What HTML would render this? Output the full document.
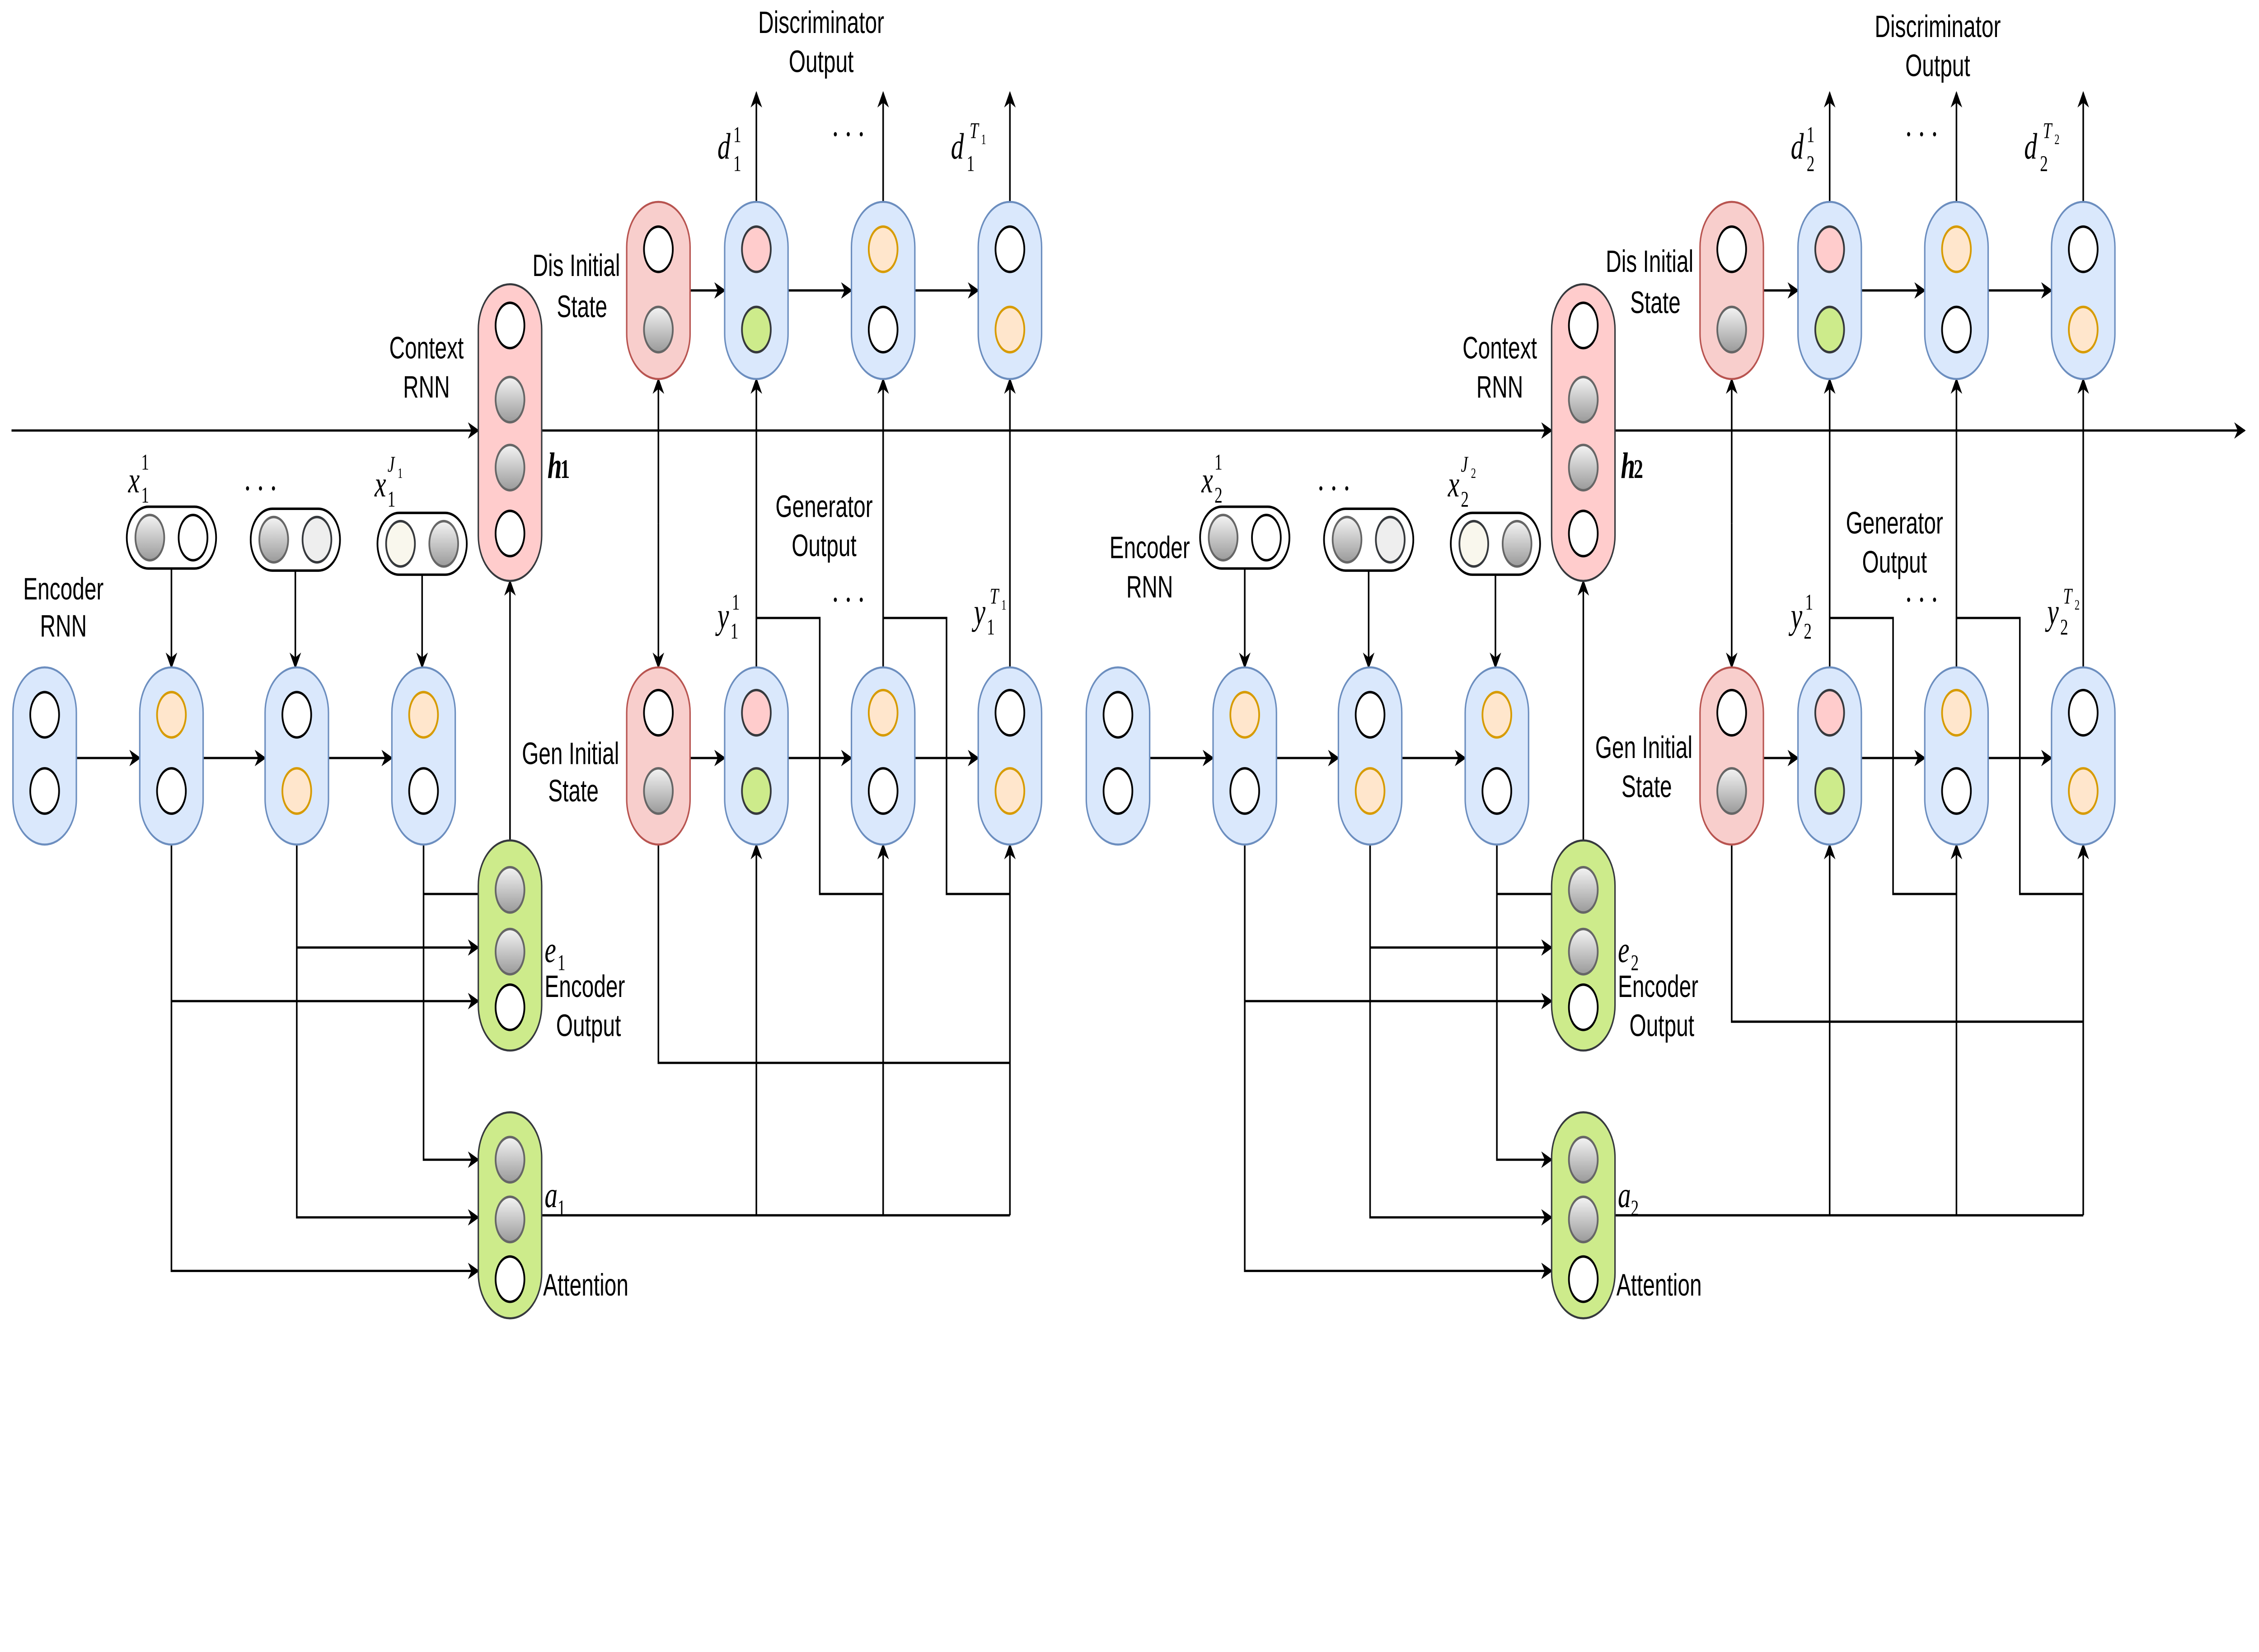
<!DOCTYPE html>
<html><head><meta charset="utf-8"><style>html,body{margin:0;padding:0;background:#fff;width:100%;height:100%;overflow:hidden}svg{display:block;position:fixed;left:0;top:0;width:100vw;height:100vh}</style></head>
<body>
<svg viewBox="0 0 1568 802" preserveAspectRatio="none" xmlns="http://www.w3.org/2000/svg">
<defs>
<linearGradient id="g" x1="0" y1="0" x2="0" y2="1"><stop offset="0" stop-color="#f4f4f4"/><stop offset="1" stop-color="#9a9a9a"/></linearGradient>
<marker id="a" viewBox="0 0 10 10" refX="9" refY="5" markerWidth="8" markerHeight="8" markerUnits="userSpaceOnUse" orient="auto-start-reverse"><path d="M0,0 L10,5 L0,10 L3,5 Z" fill="#000"/></marker>
<style>
.l{fill:none;stroke:#000;stroke-width:1.1}
.ar{fill:none;stroke:#000;stroke-width:1.1;marker-end:url(#a)}
.bc{fill:#dae8fc;stroke:#6c8ebf;stroke-width:1}
.pc{fill:#f8cecc;stroke:#b85450;stroke-width:1}
.cc{fill:#ffcccc;stroke:#36393d;stroke-width:1}
.gc{fill:#cdeb8b;stroke:#36393d;stroke-width:1}
.w{fill:#fff;stroke:#000;stroke-width:1.2}
.gy{fill:url(#g);stroke:#666;stroke-width:1.2}
.or{fill:#ffe6cc;stroke:#d79b00;stroke-width:1.2}
.pk{fill:#ffcccc;stroke:#36393d;stroke-width:1.2}
.gr{fill:#cdeb8b;stroke:#36393d;stroke-width:1.2}
.lg{fill:#eeeeee;stroke:#36393d;stroke-width:1.2}
.cr{fill:#f9f7ed;stroke:#36393d;stroke-width:1.2}
.pill{fill:#fff;stroke:#000;stroke-width:1.2}
text{font-family:"Liberation Sans",sans-serif;font-size:15px;fill:#000}
.m{font-family:"Liberation Serif",serif;font-style:italic;font-size:18px}
.s{font-family:"Liberation Serif",serif;font-size:11px}
.si{font-family:"Liberation Serif",serif;font-style:italic;font-size:11px}
.t{text-anchor:middle}
</style>
</defs>

<line class="ar" x1="8" y1="209" x2="332" y2="209"/>
<line class="ar" x1="376" y1="209" x2="1077" y2="209"/>
<line class="ar" x1="1121" y1="209" x2="1558" y2="209"/>

<g>
<polyline class="ar" points="294,410 294,563 332,563"/>
<line class="l" x1="294" y1="434" x2="332" y2="434"/>
<polyline class="ar" points="206,410 206,591 332,591"/>
<line class="ar" x1="206" y1="460" x2="332" y2="460"/>
<polyline class="ar" points="119,410 119,617 332,617"/>
<line class="ar" x1="119" y1="486" x2="332" y2="486"/>
<line class="ar" x1="354" y1="408" x2="354" y2="282"/>
<line class="ar" x1="53" y1="368" x2="97" y2="368"/>
<line class="ar" x1="141" y1="368" x2="184" y2="368"/>
<line class="ar" x1="228" y1="368" x2="272" y2="368"/>
<line class="ar" x1="119" y1="276" x2="119" y2="324"/>
<line class="ar" x1="205" y1="276" x2="205" y2="324"/>
<line class="ar" x1="293" y1="276" x2="293" y2="324"/>
<line class="ar" x1="479" y1="141" x2="503" y2="141"/>
<line class="ar" x1="547" y1="141" x2="591" y2="141"/>
<line class="ar" x1="635" y1="141" x2="679" y2="141"/>
<line class="ar" x1="525" y1="98" x2="525" y2="45"/>
<line class="ar" x1="613" y1="98" x2="613" y2="45"/>
<line class="ar" x1="701" y1="98" x2="701" y2="45"/>
<line class="ar" x1="479" y1="368" x2="503" y2="368"/>
<line class="ar" x1="547" y1="368" x2="591" y2="368"/>
<line class="ar" x1="635" y1="368" x2="679" y2="368"/>
<line class="ar" x1="457" y1="254" x2="457" y2="184"/>
<line class="ar" x1="457" y1="254" x2="457" y2="324"/>
<line class="ar" x1="525" y1="324" x2="525" y2="184"/>
<line class="ar" x1="613" y1="324" x2="613" y2="184"/>
<line class="ar" x1="701" y1="324" x2="701" y2="184"/>
<polyline class="l" points="525,300 569,300 569,434 613,434"/>
<polyline class="l" points="613,300 657,300 657,434 701,434"/>
<polyline class="l" points="457,410 457,516 701,516"/>
<line class="l" x1="376" y1="590" x2="701" y2="590"/>
<line class="ar" x1="525" y1="590" x2="525" y2="410"/>
<line class="ar" x1="613" y1="590" x2="613" y2="410"/>
<line class="ar" x1="701" y1="590" x2="701" y2="410"/>

<rect class="bc" x="9" y="324" width="44" height="86" rx="22"/>
<ellipse class="w" cx="31" cy="347" rx="10" ry="11"/><ellipse class="w" cx="31" cy="384" rx="10" ry="11"/>
<rect class="bc" x="97" y="324" width="44" height="86" rx="22"/>
<ellipse class="or" cx="119" cy="347" rx="10" ry="11"/><ellipse class="w" cx="119" cy="384" rx="10" ry="11"/>
<rect class="bc" x="184" y="324" width="44" height="86" rx="22"/>
<ellipse class="w" cx="206" cy="347" rx="10" ry="11"/><ellipse class="or" cx="206" cy="384" rx="10" ry="11"/>
<rect class="bc" x="272" y="324" width="44" height="86" rx="22"/>
<ellipse class="or" cx="294" cy="347" rx="10" ry="11"/><ellipse class="w" cx="294" cy="384" rx="10" ry="11"/>

<rect class="pill" x="88" y="246" width="62" height="30" rx="15"/>
<ellipse class="gy" cx="104" cy="261" rx="10" ry="11"/><ellipse class="w" cx="134" cy="261" rx="10" ry="11"/>
<rect class="pill" x="174" y="247" width="62" height="30" rx="15"/>
<ellipse class="gy" cx="190" cy="262" rx="10" ry="11"/><ellipse class="lg" cx="220" cy="262" rx="10" ry="11"/>
<rect class="pill" x="262" y="249" width="62" height="30" rx="15"/>
<ellipse class="cr" cx="278" cy="264" rx="10" ry="11"/><ellipse class="gy" cx="308" cy="264" rx="10" ry="11"/>

<rect class="cc" x="332" y="138" width="44" height="144" rx="22"/>
<ellipse class="w" cx="354" cy="158" rx="10" ry="11"/><ellipse class="gy" cx="354" cy="194" rx="10" ry="11"/>
<ellipse class="gy" cx="354" cy="227" rx="10" ry="11"/><ellipse class="w" cx="354" cy="259" rx="10" ry="11"/>

<rect class="gc" x="332" y="408" width="44" height="102" rx="22"/>
<ellipse class="gy" cx="354" cy="432" rx="10" ry="11"/><ellipse class="gy" cx="354" cy="462" rx="10" ry="11"/><ellipse class="w" cx="354" cy="489" rx="10" ry="11"/>
<rect class="gc" x="332" y="540" width="44" height="100" rx="22"/>
<ellipse class="gy" cx="354" cy="563" rx="10" ry="11"/><ellipse class="gy" cx="354" cy="592" rx="10" ry="11"/><ellipse class="w" cx="354" cy="621" rx="10" ry="11"/>

<rect class="pc" x="435" y="98" width="44" height="86" rx="22"/>
<ellipse class="w" cx="457" cy="121" rx="10" ry="11"/><ellipse class="gy" cx="457" cy="160" rx="10" ry="11"/>
<rect class="bc" x="503" y="98" width="44" height="86" rx="22"/>
<ellipse class="pk" cx="525" cy="121" rx="10" ry="11"/><ellipse class="gr" cx="525" cy="160" rx="10" ry="11"/>
<rect class="bc" x="591" y="98" width="44" height="86" rx="22"/>
<ellipse class="or" cx="613" cy="121" rx="10" ry="11"/><ellipse class="w" cx="613" cy="160" rx="10" ry="11"/>
<rect class="bc" x="679" y="98" width="44" height="86" rx="22"/>
<ellipse class="w" cx="701" cy="121" rx="10" ry="11"/><ellipse class="or" cx="701" cy="160" rx="10" ry="11"/>

<rect class="pc" x="435" y="324" width="44" height="86" rx="22"/>
<ellipse class="w" cx="457" cy="346" rx="10" ry="11"/><ellipse class="gy" cx="457" cy="384" rx="10" ry="11"/>
<rect class="bc" x="503" y="324" width="44" height="86" rx="22"/>
<ellipse class="pk" cx="525" cy="346" rx="10" ry="11"/><ellipse class="gr" cx="525" cy="384" rx="10" ry="11"/>
<rect class="bc" x="591" y="324" width="44" height="86" rx="22"/>
<ellipse class="or" cx="613" cy="346" rx="10" ry="11"/><ellipse class="w" cx="613" cy="384" rx="10" ry="11"/>
<rect class="bc" x="679" y="324" width="44" height="86" rx="22"/>
<ellipse class="w" cx="701" cy="346" rx="10" ry="11"/><ellipse class="or" cx="701" cy="384" rx="10" ry="11"/>
</g>

<text class="t" x="44" y="291">Encoder</text><text class="t" x="44" y="309">RNN</text>
<text class="t" x="296" y="174">Context</text><text class="t" x="296" y="193">RNN</text>
<text class="t" x="400" y="134">Dis Initial</text><text class="t" x="404" y="154">State</text>
<text class="t" x="396" y="371">Gen Initial</text><text class="t" x="398" y="389">State</text>
<text class="t" x="570" y="16">Discriminator</text><text class="t" x="570" y="35">Output</text>
<text class="t" x="572" y="251">Generator</text><text class="t" x="572" y="270">Output</text>
<text x="378" y="484">Encoder</text><text x="386" y="503">Output</text>
<text x="377" y="629">Attention</text>
<text class="m" x="89" y="239">x</text><text class="s" x="98" y="244">1</text><text class="s" x="98" y="228">1</text>
<text class="m" x="170" y="238">. . .</text>
<text class="m" x="260" y="241">x</text><text class="s" x="269" y="246">1</text><text class="si" x="269" y="229">J</text><text class="s" x="276" y="232" style="font-size:7px">1</text>
<text class="m" x="380" y="232" style="font-weight:bold">h</text><text class="s" x="389" y="232" style="font-weight:bold;font-size:13px">1</text>
<text class="m" x="378" y="467">e</text><text class="s" x="387" y="471">1</text>
<text class="m" x="378" y="586">a</text><text class="s" x="387" y="590">1</text>
<text class="m" x="498" y="77">d</text><text class="s" x="509" y="83">1</text><text class="s" x="509" y="69">1</text>
<text class="m" x="578" y="66">. . .</text>
<text class="m" x="660" y="77">d</text><text class="s" x="671" y="83">1</text><text class="si" x="673" y="67">T</text><text class="s" x="681" y="70" style="font-size:7px">1</text>
<text class="m" x="498" y="305">y</text><text class="s" x="507" y="310">1</text><text class="s" x="508" y="296">1</text>
<text class="m" x="578" y="292">. . .</text>
<text class="m" x="676" y="303">y</text><text class="s" x="685" y="308">1</text><text class="si" x="687" y="293">T</text><text class="s" x="695" y="296" style="font-size:7px">1</text>

<g transform="translate(745,0)">
<polyline class="ar" points="294,410 294,563 332,563"/>
<line class="l" x1="294" y1="434" x2="332" y2="434"/>
<polyline class="ar" points="206,410 206,591 332,591"/>
<line class="ar" x1="206" y1="460" x2="332" y2="460"/>
<polyline class="ar" points="119,410 119,617 332,617"/>
<line class="ar" x1="119" y1="486" x2="332" y2="486"/>
<line class="ar" x1="354" y1="408" x2="354" y2="282"/>
<line class="ar" x1="53" y1="368" x2="97" y2="368"/>
<line class="ar" x1="141" y1="368" x2="184" y2="368"/>
<line class="ar" x1="228" y1="368" x2="272" y2="368"/>
<line class="ar" x1="119" y1="276" x2="119" y2="324"/>
<line class="ar" x1="205" y1="276" x2="205" y2="324"/>
<line class="ar" x1="293" y1="276" x2="293" y2="324"/>
<line class="ar" x1="479" y1="141" x2="503" y2="141"/>
<line class="ar" x1="547" y1="141" x2="591" y2="141"/>
<line class="ar" x1="635" y1="141" x2="679" y2="141"/>
<line class="ar" x1="525" y1="98" x2="525" y2="45"/>
<line class="ar" x1="613" y1="98" x2="613" y2="45"/>
<line class="ar" x1="701" y1="98" x2="701" y2="45"/>
<line class="ar" x1="479" y1="368" x2="503" y2="368"/>
<line class="ar" x1="547" y1="368" x2="591" y2="368"/>
<line class="ar" x1="635" y1="368" x2="679" y2="368"/>
<line class="ar" x1="457" y1="254" x2="457" y2="184"/>
<line class="ar" x1="457" y1="254" x2="457" y2="324"/>
<line class="ar" x1="525" y1="324" x2="525" y2="184"/>
<line class="ar" x1="613" y1="324" x2="613" y2="184"/>
<line class="ar" x1="701" y1="324" x2="701" y2="184"/>
<polyline class="l" points="525,300 569,300 569,434 613,434"/>
<polyline class="l" points="613,300 657,300 657,434 701,434"/>
<polyline class="l" points="457,410 457,496 701,496"/>
<line class="l" x1="376" y1="590" x2="701" y2="590"/>
<line class="ar" x1="525" y1="590" x2="525" y2="410"/>
<line class="ar" x1="613" y1="590" x2="613" y2="410"/>
<line class="ar" x1="701" y1="590" x2="701" y2="410"/>
<rect class="bc" x="9" y="324" width="44" height="86" rx="22"/>
<ellipse class="w" cx="31" cy="347" rx="10" ry="11"/><ellipse class="w" cx="31" cy="384" rx="10" ry="11"/>
<rect class="bc" x="97" y="324" width="44" height="86" rx="22"/>
<ellipse class="or" cx="119" cy="347" rx="10" ry="11"/><ellipse class="w" cx="119" cy="384" rx="10" ry="11"/>
<rect class="bc" x="184" y="324" width="44" height="86" rx="22"/>
<ellipse class="w" cx="206" cy="347" rx="10" ry="11"/><ellipse class="or" cx="206" cy="384" rx="10" ry="11"/>
<rect class="bc" x="272" y="324" width="44" height="86" rx="22"/>
<ellipse class="or" cx="294" cy="347" rx="10" ry="11"/><ellipse class="w" cx="294" cy="384" rx="10" ry="11"/>
<rect class="pill" x="88" y="246" width="62" height="30" rx="15"/>
<ellipse class="gy" cx="104" cy="261" rx="10" ry="11"/><ellipse class="w" cx="134" cy="261" rx="10" ry="11"/>
<rect class="pill" x="174" y="247" width="62" height="30" rx="15"/>
<ellipse class="gy" cx="190" cy="262" rx="10" ry="11"/><ellipse class="lg" cx="220" cy="262" rx="10" ry="11"/>
<rect class="pill" x="262" y="249" width="62" height="30" rx="15"/>
<ellipse class="cr" cx="278" cy="264" rx="10" ry="11"/><ellipse class="gy" cx="308" cy="264" rx="10" ry="11"/>
<rect class="cc" x="332" y="138" width="44" height="144" rx="22"/>
<ellipse class="w" cx="354" cy="158" rx="10" ry="11"/><ellipse class="gy" cx="354" cy="194" rx="10" ry="11"/>
<ellipse class="gy" cx="354" cy="227" rx="10" ry="11"/><ellipse class="w" cx="354" cy="259" rx="10" ry="11"/>
<rect class="gc" x="332" y="408" width="44" height="102" rx="22"/>
<ellipse class="gy" cx="354" cy="432" rx="10" ry="11"/><ellipse class="gy" cx="354" cy="462" rx="10" ry="11"/><ellipse class="w" cx="354" cy="489" rx="10" ry="11"/>
<rect class="gc" x="332" y="540" width="44" height="100" rx="22"/>
<ellipse class="gy" cx="354" cy="563" rx="10" ry="11"/><ellipse class="gy" cx="354" cy="592" rx="10" ry="11"/><ellipse class="w" cx="354" cy="621" rx="10" ry="11"/>
<rect class="pc" x="435" y="98" width="44" height="86" rx="22"/>
<ellipse class="w" cx="457" cy="121" rx="10" ry="11"/><ellipse class="gy" cx="457" cy="160" rx="10" ry="11"/>
<rect class="bc" x="503" y="98" width="44" height="86" rx="22"/>
<ellipse class="pk" cx="525" cy="121" rx="10" ry="11"/><ellipse class="gr" cx="525" cy="160" rx="10" ry="11"/>
<rect class="bc" x="591" y="98" width="44" height="86" rx="22"/>
<ellipse class="or" cx="613" cy="121" rx="10" ry="11"/><ellipse class="w" cx="613" cy="160" rx="10" ry="11"/>
<rect class="bc" x="679" y="98" width="44" height="86" rx="22"/>
<ellipse class="w" cx="701" cy="121" rx="10" ry="11"/><ellipse class="or" cx="701" cy="160" rx="10" ry="11"/>
<rect class="pc" x="435" y="324" width="44" height="86" rx="22"/>
<ellipse class="w" cx="457" cy="346" rx="10" ry="11"/><ellipse class="gy" cx="457" cy="384" rx="10" ry="11"/>
<rect class="bc" x="503" y="324" width="44" height="86" rx="22"/>
<ellipse class="pk" cx="525" cy="346" rx="10" ry="11"/><ellipse class="gr" cx="525" cy="384" rx="10" ry="11"/>
<rect class="bc" x="591" y="324" width="44" height="86" rx="22"/>
<ellipse class="or" cx="613" cy="346" rx="10" ry="11"/><ellipse class="w" cx="613" cy="384" rx="10" ry="11"/>
<rect class="bc" x="679" y="324" width="44" height="86" rx="22"/>
<ellipse class="w" cx="701" cy="346" rx="10" ry="11"/><ellipse class="or" cx="701" cy="384" rx="10" ry="11"/>

<text class="t" x="53" y="271">Encoder</text><text class="t" x="53" y="290">RNN</text>
<text class="t" x="296" y="174">Context</text><text class="t" x="296" y="193">RNN</text>
<text class="t" x="400" y="132">Dis Initial</text><text class="t" x="404" y="152">State</text>
<text class="t" x="396" y="368">Gen Initial</text><text class="t" x="398" y="387">State</text>
<text class="t" x="600" y="18">Discriminator</text><text class="t" x="600" y="37">Output</text>
<text class="t" x="570" y="259">Generator</text><text class="t" x="570" y="278">Output</text>
<text x="378" y="484">Encoder</text><text x="386" y="503">Output</text>
<text x="377" y="629">Attention</text>
<text class="m" x="89" y="239">x</text><text class="s" x="98" y="244">2</text><text class="s" x="98" y="228">1</text>
<text class="m" x="170" y="238">. . .</text>
<text class="m" x="260" y="241">x</text><text class="s" x="269" y="246">2</text><text class="si" x="269" y="229">J</text><text class="s" x="276" y="232" style="font-size:7px">2</text>
<text class="m" x="380" y="232" style="font-weight:bold">h</text><text class="s" x="389" y="232" style="font-weight:bold;font-size:13px">2</text>
<text class="m" x="378" y="467">e</text><text class="s" x="387" y="471">2</text>
<text class="m" x="378" y="586">a</text><text class="s" x="387" y="590">2</text>
<text class="m" x="498" y="77">d</text><text class="s" x="509" y="83">2</text><text class="s" x="509" y="69">1</text>
<text class="m" x="578" y="66">. . .</text>
<text class="m" x="660" y="77">d</text><text class="s" x="671" y="83">2</text><text class="si" x="673" y="67">T</text><text class="s" x="681" y="70" style="font-size:7px">2</text>
<text class="m" x="498" y="305">y</text><text class="s" x="507" y="310">2</text><text class="s" x="508" y="296">1</text>
<text class="m" x="578" y="292">. . .</text>
<text class="m" x="676" y="303">y</text><text class="s" x="685" y="308">2</text><text class="si" x="687" y="293">T</text><text class="s" x="695" y="296" style="font-size:7px">2</text>
</g>
</svg>
</body></html>
